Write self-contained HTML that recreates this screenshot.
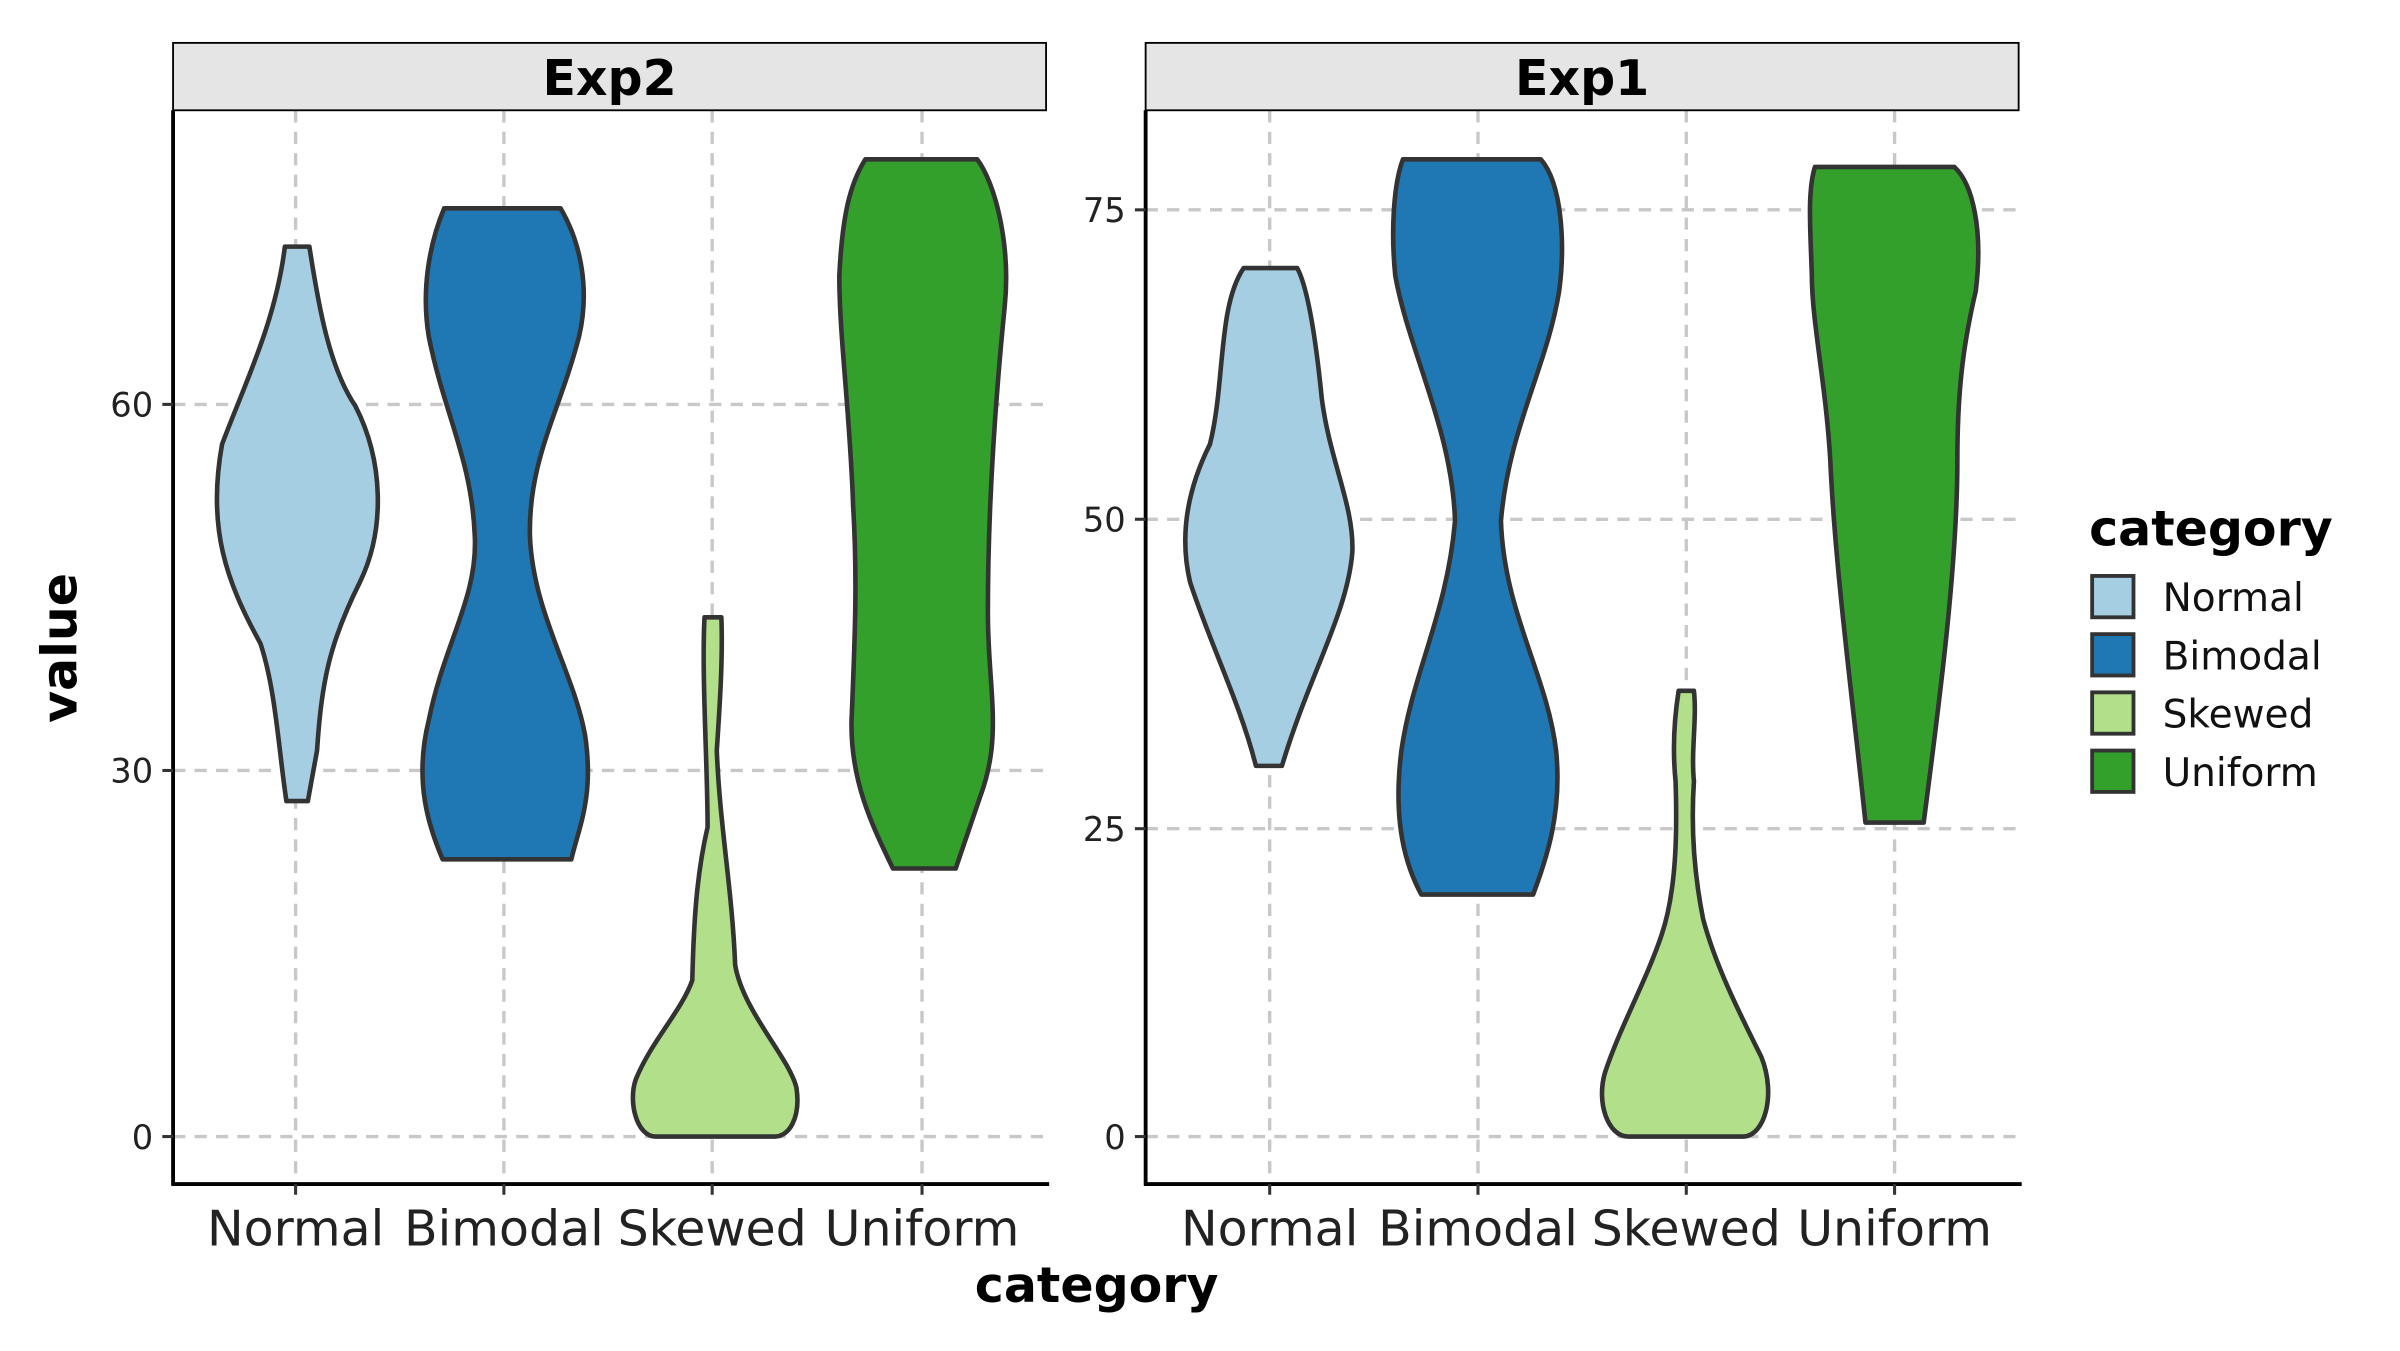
<!DOCTYPE html>
<html><head><meta charset="utf-8"><style>
html,body{margin:0;padding:0;background:#fff;}
svg{display:block;}
text{font-family:"DejaVu Sans","Liberation Sans",sans-serif;}
</style></head><body>
<svg width="2400" height="1351" viewBox="0 0 1567 882" preserveAspectRatio="none" xmlns="http://www.w3.org/2000/svg">
<rect width="1567" height="882" fill="#fff"/>
<g stroke="#c8c8c8" stroke-width="2.2" stroke-dasharray="8,6" fill="none">
<line x1="193" y1="72" x2="193" y2="773"/><line x1="329" y1="72" x2="329" y2="773"/>
<line x1="465" y1="72" x2="465" y2="773"/><line x1="602" y1="72" x2="602" y2="773"/>
<line x1="113" y1="264" x2="685" y2="264"/><line x1="113" y1="503" x2="685" y2="503"/><line x1="113" y1="742" x2="685" y2="742"/>
<line x1="829" y1="72" x2="829" y2="773"/><line x1="965" y1="72" x2="965" y2="773"/>
<line x1="1101" y1="72" x2="1101" y2="773"/><line x1="1237" y1="72" x2="1237" y2="773"/>
<line x1="748" y1="137" x2="1320" y2="137"/><line x1="748" y1="339" x2="1320" y2="339"/><line x1="748" y1="541" x2="1320" y2="541"/><line x1="748" y1="742" x2="1320" y2="742"/>
</g>
<rect x="113" y="28" width="570" height="44" fill="#e5e5e5" stroke="#000" stroke-width="1.2"/>
<rect x="748" y="28" width="570" height="44" fill="#e5e5e5" stroke="#000" stroke-width="1.2"/>
<text x="398" y="62" font-size="32" font-weight="bold" text-anchor="middle">Exp2</text>
<text x="1033" y="62" font-size="32" font-weight="bold" text-anchor="middle">Exp1</text>
<g stroke="#333" stroke-width="3" stroke-linejoin="round">
<path fill="#a6cee3" d="M186,161 L202,161 C208,200 215,240 232,265 C250,300 252,345 235,380 C215,420 210,445 207,490 L201,523 L187,523 C182,490 180,450 170,420 C148,380 135,345 145,290 C160,250 180,210 186,161 Z"/>
<path fill="#1f78b4" d="M290,136 L366,136 C380,160 385,190 378,220 C365,270 345,300 346,350 C348,400 375,440 382,480 C388,520 378,540 373,561 L289,561 C280,540 270,510 280,470 C290,420 312,390 310,350 C308,300 290,270 280,220 C275,190 280,160 290,136 Z"/>
<path fill="#b2df8a" d="M460,403 L471,403 C472,430 470,460 468,490 C470,540 478,580 480,630 C485,660 515,690 520,710 C523,730 515,742 506,742 L428,742 C416,742 410,720 415,705 C425,680 445,660 452,640 C453,600 455,570 462,540 C462,500 458,440 460,403 Z"/>
<path fill="#33a02c" d="M565,104 L638,104 C650,120 660,160 656,200 C650,260 645,330 645,400 C645,450 655,480 640,520 L624,567 L583,567 C570,540 555,510 556,470 C558,420 560,380 557,330 C555,270 548,220 548,180 C550,140 555,120 565,104 Z"/>
<path fill="#a6cee3" d="M812,175 L847,175 C855,190 860,230 863,260 C868,300 884,330 883,360 C880,400 855,440 837,500 L820,500 C810,460 790,420 777,380 C770,350 775,320 790,290 C800,250 795,200 812,175 Z"/>
<path fill="#1f78b4" d="M916,104 L1006,104 C1020,120 1022,160 1018,190 C1010,240 985,280 980,340 C982,400 1010,440 1016,490 C1020,530 1010,560 1001,584 L928,584 C915,560 910,530 915,490 C922,440 945,400 950,340 C948,280 920,230 911,180 C908,150 910,120 916,104 Z"/>
<path fill="#b2df8a" d="M1096,451 L1106,451 C1108,470 1104,490 1106,510 C1104,540 1106,570 1112,600 C1120,630 1135,660 1150,690 C1160,715 1152,742 1138,742 L1063,742 C1050,742 1042,720 1048,700 C1058,670 1075,640 1085,610 C1095,580 1095,540 1094,510 C1092,490 1093,470 1096,451 Z"/>
<path fill="#33a02c" d="M1185,109 L1276,109 C1288,120 1295,150 1290,190 C1283,220 1278,250 1278,300 C1278,370 1266,460 1256,537 L1218,537 C1210,460 1198,370 1195,300 C1192,250 1183,210 1183,180 C1182,150 1180,125 1185,109 Z"/>
</g>
<g stroke="#000" stroke-width="2.5">
<line x1="113" y1="72" x2="113" y2="774"/><line x1="112" y1="773" x2="685" y2="773"/>
<line x1="748" y1="72" x2="748" y2="774"/><line x1="747" y1="773" x2="1320" y2="773"/>
</g>
<g stroke="#333" stroke-width="2">
<line x1="106" y1="264" x2="113" y2="264"/><line x1="106" y1="503" x2="113" y2="503"/><line x1="106" y1="742" x2="113" y2="742"/>
<line x1="741" y1="137" x2="748" y2="137"/><line x1="741" y1="339" x2="748" y2="339"/><line x1="741" y1="541" x2="748" y2="541"/><line x1="741" y1="742" x2="748" y2="742"/>
<line x1="193" y1="773" x2="193" y2="780"/><line x1="329" y1="773" x2="329" y2="780"/><line x1="465" y1="773" x2="465" y2="780"/><line x1="602" y1="773" x2="602" y2="780"/>
<line x1="829" y1="773" x2="829" y2="780"/><line x1="965" y1="773" x2="965" y2="780"/><line x1="1101" y1="773" x2="1101" y2="780"/><line x1="1237" y1="773" x2="1237" y2="780"/>
</g>
<g font-size="22" fill="#222" text-anchor="end">
<text x="100" y="272">60</text><text x="100" y="511">30</text><text x="100" y="750">0</text>
<text x="735" y="145">75</text><text x="735" y="347">50</text><text x="735" y="549">25</text><text x="735" y="750">0</text>
</g>
<g font-size="32" fill="#222" text-anchor="middle">
<text x="193" y="813">Normal</text><text x="329" y="813">Bimodal</text><text x="465" y="813">Skewed</text><text x="602" y="813">Uniform</text>
<text x="829" y="813">Normal</text><text x="965" y="813">Bimodal</text><text x="1101" y="813">Skewed</text><text x="1237" y="813">Uniform</text>
</g>
<text x="716" y="850" font-size="32" font-weight="bold" text-anchor="middle">category</text>
<text transform="translate(50,423) rotate(-90)" font-size="32" font-weight="bold" text-anchor="middle">value</text>
<text x="1364" y="356" font-size="32" font-weight="bold">category</text>
<g stroke="#333" stroke-width="2.5">
<rect x="1366" y="376" width="27" height="27" fill="#a6cee3"/>
<rect x="1366" y="414" width="27" height="27" fill="#1f78b4"/>
<rect x="1366" y="452" width="27" height="27" fill="#b2df8a"/>
<rect x="1366" y="490" width="27" height="27" fill="#33a02c"/>
</g>
<g font-size="25.5" fill="#111">
<text x="1412" y="399">Normal</text><text x="1412" y="437">Bimodal</text><text x="1412" y="475">Skewed</text><text x="1412" y="513">Uniform</text>
</g>
</svg>
</body></html>
